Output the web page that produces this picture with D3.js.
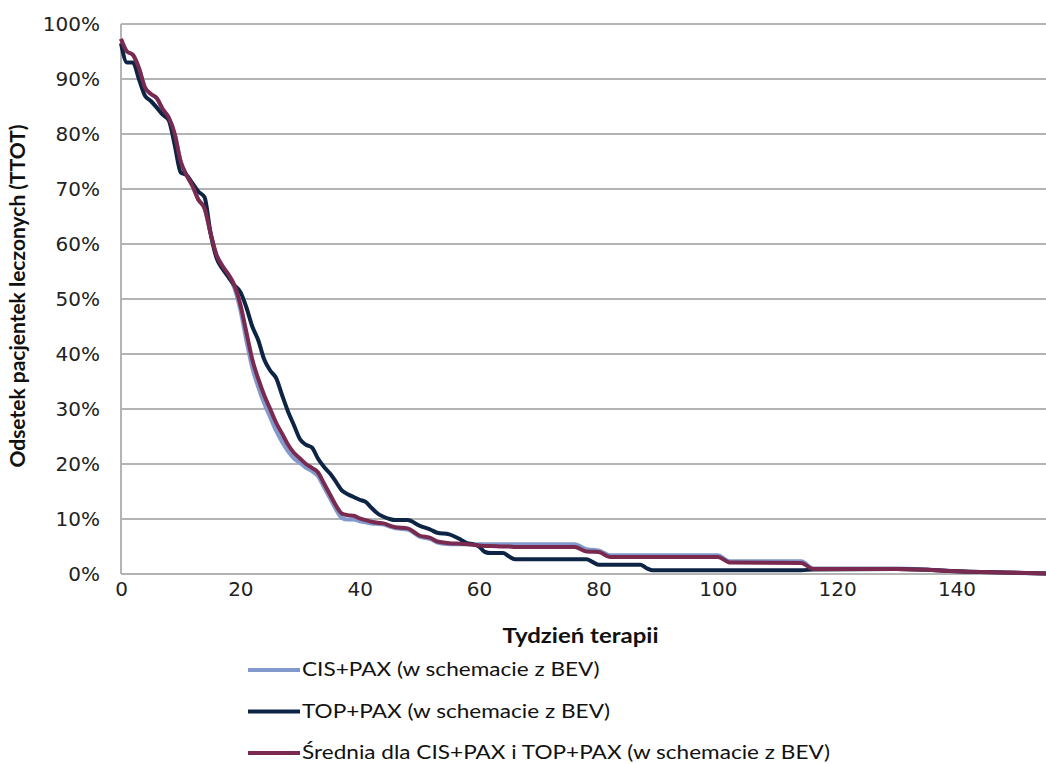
<!DOCTYPE html>
<html>
<head>
<meta charset="utf-8">
<script src="https://cdn.jsdelivr.net/npm/d3@7"></script>
<style>
  html, body { margin: 0; padding: 0; background: #fff; }
  svg { display: block; }
</style>
</head>
<body>
<svg id="chart" width="1046" height="764"></svg>
<script>
// tydzień terapii (wspólne punkty dla wszystkich serii)
const weeks = [0, 1, 2, 3, 4, 5, 6, 7, 8, 9, 10, 11, 12, 13, 14, 15, 16, 17, 18, 19,
  20, 21, 22, 23, 24, 25, 26, 27, 28, 29, 30, 31, 32, 33, 34, 35, 36, 37, 38, 39,
  40, 41, 42, 43, 44, 45, 46, 48, 50, 52, 53, 55, 57, 58, 59, 60, 61, 62, 64, 65,
  66, 70, 76, 78, 79, 80, 82, 87, 88, 89, 100, 102, 114, 116, 130, 142, 155];

const cisPax = [97.3, 95, 94.4, 92, 88.5, 87.3, 86.5, 84.5, 83, 80, 75, 72.5, 70.5, 68, 66.5, 62, 58, 56, 54.3, 52,
  48, 42.5, 37.5, 34, 31, 28.5, 26, 24, 22.3, 21, 20.2, 19.3, 18.7, 17.8, 15.8, 13.8, 11.8, 10.2, 9.9, 9.9,
  9.6, 9.4, 9.2, 9.1, 9, 8.6, 8.3, 8.1, 6.8, 6.3, 5.7, 5.4, 5.4, 5.4, 5.4, 5.4, 5.4, 5.4, 5.4, 5.4,
  5.4, 5.4, 5.4, 4.5, 4.4, 4.3, 3.4, 3.4, 3.4, 3.4, 3.4, 2.3, 2.3, 1, 1, 0.4, 0.1];

const topPax = [96.5, 93, 93, 90, 87, 86, 84.8, 83.5, 82.5, 78, 73, 72.5, 71, 69.5, 68.5, 62, 57.5, 55.5, 54, 52.5,
  51.3, 48.5, 45, 42.5, 39, 37, 35.6, 32.5, 29.5, 27, 24.5, 23.5, 23, 21, 19.5, 18.3, 16.8, 15.2, 14.5, 14,
  13.5, 13.1, 12, 11, 10.4, 10, 9.8, 9.8, 8.8, 8, 7.5, 7.2, 6.2, 5.6, 5.4, 5, 4, 3.8, 3.8, 3.2,
  2.7, 2.7, 2.7, 2.7, 2.2, 1.7, 1.7, 1.7, 1.1, 0.7, 0.7, 0.7, 0.7, 0.8, 0.9, 0.4, 0.1];

const srednia = [97.3, 95, 94.4, 92, 88.5, 87.3, 86.5, 84.5, 83, 80, 75, 72.5, 70.5, 68, 66.5, 62, 58, 56, 54.5, 52.5,
  49, 44, 39, 35.5, 32.5, 30, 27.5, 25.5, 23.5, 22, 21, 20, 19.3, 18.5, 16.5, 14.5, 12.5, 11, 10.7, 10.6,
  10.1, 9.8, 9.5, 9.3, 9.2, 8.8, 8.5, 8.3, 7, 6.5, 5.9, 5.6, 5.5, 5.4, 5.3, 5.2, 5.1, 5.1, 5, 5,
  4.9, 4.9, 4.9, 4.1, 4.05, 4, 3.1, 3.1, 3.1, 3.1, 3.1, 2.1, 2, 0.9, 0.9, 0.4, 0.1];

const seriesNames = ['CIS+PAX (w schemacie z BEV)', 'TOP+PAX (w schemacie z BEV)',
  'Średnia dla CIS+PAX i TOP+PAX (w schemacie z BEV)'];
const seriesColors = ['#8199cc', '#0e2445', '#7a2a4f'];
const seriesValues = [cisPax, topPax, srednia];

const xTicks = [0, 20, 40, 60, 80, 100, 120, 140];
const yTicks = [0, 10, 20, 30, 40, 50, 60, 70, 80, 90, 100];

const margin = { top: 24, right: 0, bottom: 190, left: 121 };
const width = 1046 - margin.left - margin.right;
const height = 764 - margin.top - margin.bottom;

const svg = d3.select('#chart');
const g = svg.append('g').attr('transform', `translate(${margin.left},${margin.top})`);

const x = d3.scaleLinear().domain([0, 155]).range([0, width]);
const y = d3.scaleLinear().domain([0, 100]).range([height, 0]);

// siatka
g.append('g')
  .selectAll('line')
  .data(yTicks)
  .join('line')
  .attr('x1', 0)
  .attr('x2', width)
  .attr('y1', (d) => y(d))
  .attr('y2', (d) => y(d))
  .attr('stroke', '#b4b4b4')
  .attr('stroke-width', 2);

g.append('line')
  .attr('x1', 0).attr('x2', 0)
  .attr('y1', 0).attr('y2', height)
  .attr('stroke', '#b4b4b4')
  .attr('stroke-width', 2);

// osie
const yAxis = g.append('g')
  .call(d3.axisLeft(y).tickValues(yTicks).tickFormat((d) => `${d}%`).tickSize(0).tickPadding(21));
const xAxis = g.append('g')
  .attr('transform', `translate(0,${height})`)
  .call(d3.axisBottom(x).tickValues(xTicks).tickSize(0).tickPadding(8));

[yAxis, xAxis].forEach((a) => {
  a.select('.domain').remove();
  a.selectAll('text')
    .attr('fill', '#222')
    .style('font-family', 'DejaVu Sans, Verdana, sans-serif')
    .style('font-size', '20px');
});

// linie
const line = d3.line()
  .x((d) => x(d[0]))
  .y((d) => y(d[1]))
  .curve(d3.curveMonotoneX);

seriesValues.forEach((vals, i) => {
  g.append('path')
    .datum(weeks.map((w, j) => [w, vals[j]]))
    .attr('fill', 'none')
    .attr('stroke', seriesColors[i])
    .attr('stroke-width', 4)
    .attr('stroke-linejoin', 'round')
    .attr('d', line);
});

// tytuły osi
svg.append('text')
  .attr('transform', `translate(${margin.left + x(77)},643) scale(1.2,1)`)
  .attr('text-anchor', 'middle')
  .style('font-family', 'Lato, sans-serif')
  .style('font-weight', 'bold')
  .style('font-size', '20px')
  .attr('fill', '#111')
  .text('Tydzień terapii');

svg.append('text')
  .attr('transform', 'translate(25,296) rotate(-90) scale(1.05,1)')
  .attr('text-anchor', 'middle')
  .style('font-family', 'Lato, sans-serif')
  .style('font-weight', 'bold')
  .style('font-size', '20px')
  .attr('fill', '#111')
  .text('Odsetek pacjentek leczonych (TTOT)');

// legenda
const legend = svg.append('g')
  .selectAll('g')
  .data(seriesNames)
  .join('g')
  .attr('transform', (d, i) => `translate(248,${670 + i * 41.5})`);

legend.append('line')
  .attr('x1', 0).attr('x2', 52)
  .attr('stroke', (d, i) => seriesColors[i])
  .attr('stroke-width', 4);

legend.append('text')
  .attr('transform', 'translate(54,6) scale(1.13,1)')
  .style('font-family', 'Lato, sans-serif')
  .style('font-size', '20px')
  .attr('fill', '#111')
  .text((d) => d);
</script>
</body>
</html>
